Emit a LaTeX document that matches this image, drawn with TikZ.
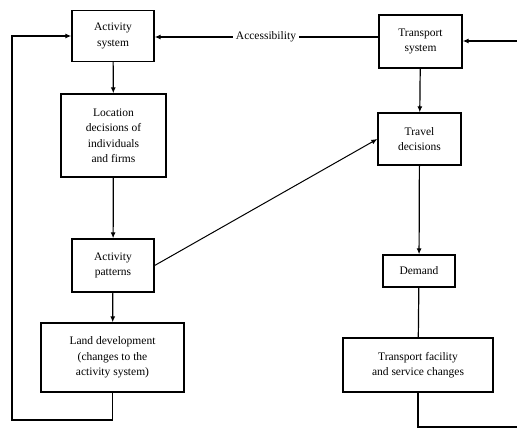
\documentclass[tikz,border=0pt]{standalone}
\usepackage{fontspec}
\setmainfont{Liberation Serif}
\usetikzlibrary{arrows.meta}
\begin{document}
\begin{tikzpicture}[x=1pt,y=-1pt,
  box/.style={draw,line width=1.3pt,align=center,inner sep=1pt,font=\fontsize{11.5}{15.5}\selectfont},
  ln/.style={line width=1.2pt},
  arr/.style={ln,-{Latex[length=6pt,width=5pt]}}]
\useasboundingbox (0,0) rectangle (517,428);
\node[box,minimum width=82pt,minimum height=51pt] (as) at (113,36) {Activity\\system};
\node[box,minimum width=105pt,minimum height=83pt] (ld) at (113.5,135.5) {Location\\decisions of\\individuals\\and firms};
\node[box,minimum width=82pt,minimum height=53pt] (ap) at (113,265.5) {Activity\\patterns};
\node[box,minimum width=143pt,minimum height=69pt] (lu) at (112.5,357.5) {Land development\\(changes to the\\activity system)};
\node[box,minimum width=83pt,minimum height=53pt] (ts) at (420.5,41.5) {Transport\\system};
\node[box,minimum width=83pt,minimum height=52pt] (td) at (419.5,139) {Travel\\decisions};
\node[box,minimum width=72pt,minimum height=32pt] (dm) at (419,271) {Demand};
\node[box,minimum width=150pt,minimum height=54pt] (tf) at (418,365) {Transport facility\\and service changes};
\node[font=\fontsize{11.5}{12}\selectfont,inner sep=3pt] (acc) at (266,37) {Accessibility};
\coordinate (bl) at (12,420);
\coordinate (br) at (517,427);
\coordinate (rin) at (517,41);
% arrows
\draw[arr] (as) -- (ld);
\draw[arr] (ld) -- (ap);
\draw[arr] (ap) -- (lu);
\draw[arr] (ts) -- (td);
\draw[arr] (td) -- (dm);
\draw[ln] (dm) -- (tf);
\draw[arr,line width=1pt] (ap.east) -- (td.west);
\draw[arr] (acc.west) -- (as.east |- acc.west);
\draw[ln] (acc.east) -- (ts.west |- acc.east);
\draw[arr] (rin) -- (ts.east |- rin);
\draw[arr] (lu.south) |- (bl) |- (as.west);
\draw[ln] (tf.south) |- (br);
\end{tikzpicture}
\end{document}
